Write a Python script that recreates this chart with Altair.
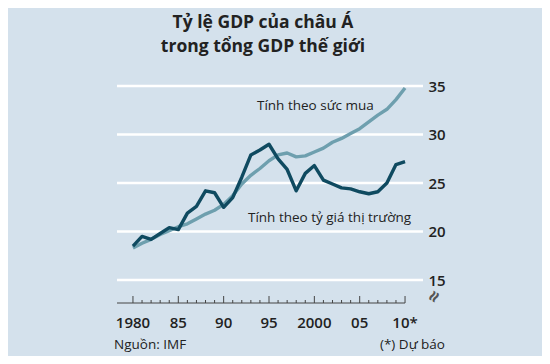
import altair as alt
import pandas as pd

years = list(range(1980, 2011))
ppp = [18.3, 18.8, 19.2, 19.7, 20.1, 20.5, 20.8, 21.3, 21.8, 22.2,
       22.8, 23.7, 24.9, 25.8, 26.5, 27.3, 27.9, 28.1, 27.7, 27.8,
       28.2, 28.6, 29.2, 29.6, 30.1, 30.6, 31.3, 32.0, 32.6, 33.6, 34.8]
market = [18.5, 19.5, 19.2, 19.8, 20.4, 20.2, 21.9, 22.6, 24.2, 24.0,
          22.5, 23.5, 25.6, 27.9, 28.4, 29.0, 27.5, 26.4, 24.2, 26.0,
          26.8, 25.3, 24.9, 24.5, 24.4, 24.1, 23.9, 24.1, 25.0, 26.9, 27.2]
y_ticks = [15, 20, 25, 30, 35]
x_label_years = [1980, 1985, 1990, 1995, 2000, 2005, 2010]
x_label_text = ["1980", "85", "90", "95", "2000", "05", "10*"]
title_lines = ["Tỷ lệ GDP của châu Á", "trong tổng GDP thế giới"]
series_names = ["Tính theo sức mua", "Tính theo tỷ giá thị trường"]

BG = "#d4e1ec"
DARK = "#0f4a60"
LIGHT = "#6e9fae"
TXT = "#222222"
FONT = "Open Sans"

X_MIN, X_MAX = 1978.24, 2011.98
Y_MIN, Y_MAX = 12.64, 35.0
W, H = 306, 217

xs = alt.Scale(domain=[X_MIN, X_MAX], nice=False, zero=False)
ys = alt.Scale(domain=[Y_MIN, Y_MAX], nice=False, zero=False)

df = pd.DataFrame({
    "year": years * 2,
    "value": ppp + market,
    "series": [series_names[0]] * len(years) + [series_names[1]] * len(years),
})

grid_df = pd.DataFrame({"v": y_ticks})
grid = alt.Chart(grid_df).mark_rule(color="white", strokeWidth=2.5).encode(
    y=alt.Y("v:Q", scale=ys,
            axis=alt.Axis(orient="right", values=y_ticks, domain=False, ticks=False,
                          grid=False, labelPadding=5, labelFontSize=15,
                          labelFont=FONT, labelFontWeight=600, labelColor=TXT,
                          title=None)),
    x=alt.value(0), x2=alt.value(W),
)

lines = alt.Chart(df).mark_line(strokeWidth=3.4, strokeJoin="round").encode(
    x=alt.X("year:Q", scale=xs, axis=None),
    y=alt.Y("value:Q", scale=ys),
    color=alt.Color("series:N", scale=alt.Scale(domain=series_names[::-1], range=[DARK, LIGHT]),
                    legend=None),
    order=alt.Order("year:Q"),
)

# x axis baseline
base_df = pd.DataFrame({"x0": [X_MIN], "x1": [2010.0]})
baseline = alt.Chart(base_df).mark_rule(color="#444444", strokeWidth=1).encode(
    x=alt.X("x0:Q", scale=xs), x2="x1:Q", y=alt.value(H),
)

tick_df = pd.DataFrame({"year": years, "major": [(y % 5 == 0) or y == 2010 for y in years]})
ticks_minor = alt.Chart(tick_df).transform_filter("!datum.major").mark_rule(
    color="#444444", strokeWidth=1).encode(
    x=alt.X("year:Q", scale=xs), y=alt.value(H), y2=alt.value(H - 3),
)
ticks_major = alt.Chart(tick_df).transform_filter("datum.major").mark_rule(
    color="#444444", strokeWidth=1).encode(
    x=alt.X("year:Q", scale=xs), y=alt.value(H), y2=alt.value(H - 7),
)

xlab_df = pd.DataFrame({"year": x_label_years, "label": x_label_text})
xlabels = alt.Chart(xlab_df).mark_text(fontSize=15, font=FONT, fontWeight=600, color=TXT,
                                        baseline="middle").encode(
    x=alt.X("year:Q", scale=xs), y=alt.value(H + 20), text="label:N",
)

title_df = pd.DataFrame({"line": title_lines, "yy": [-58, -34]})
title = alt.Chart(title_df).mark_text(fontSize=17.5, font=FONT, fontWeight="bold", color=TXT,
                                       baseline="alphabetic").encode(
    x=alt.value(146), y=alt.Y("yy:Q", scale=None), text="line:N",
)

ann_df = pd.DataFrame({"label": series_names, "px": [140, 131], "py": [20, 132]})
ann = alt.Chart(ann_df).mark_text(fontSize=13.5, font=FONT, color=TXT, align="left",
                                   baseline="middle").encode(
    x=alt.X("px:Q", scale=None), y=alt.Y("py:Q", scale=None), text="label:N",
)

foot_df = pd.DataFrame({"label": ["Nguồn: IMF", "(*) Dự báo"], "px": [-3, 328],
                        "al": ["left", "right"]})
foot_l = alt.Chart(foot_df).transform_filter("datum.al == 'left'").mark_text(
    fontSize=13.5, font=FONT, color=TXT, align="left", baseline="middle").encode(
    x=alt.X("px:Q", scale=None), y=alt.value(H + 42), text="label:N",
)
foot_r = alt.Chart(foot_df).transform_filter("datum.al == 'right'").mark_text(
    fontSize=13.5, font=FONT, color=TXT, align="right", baseline="middle").encode(
    x=alt.X("px:Q", scale=None), y=alt.value(H + 42), text="label:N",
)

brk_df = pd.DataFrame({"s": ["≈"]})
brk = alt.Chart(brk_df).mark_text(fontSize=20, font=FONT, fontWeight="bold", color="#555555",
                                  angle=300, baseline="middle").encode(
    x=alt.value(W + 12), y=alt.value(H - 6), text="s:N",
)

chart = alt.layer(grid, lines, baseline, ticks_minor, ticks_major, xlabels, title, ann,
                  foot_l, foot_r, brk).resolve_scale(y="shared").properties(
    width=W, height=H,
    autosize=alt.AutoSizeParams(type="none"),
    padding={"left": 109, "top": 78, "right": 119, "bottom": 53},
).configure(background=BG).configure_view(stroke=None, fill=BG)

chart.save("out.html", embed_options={"renderer": "svg", "actions": False})
